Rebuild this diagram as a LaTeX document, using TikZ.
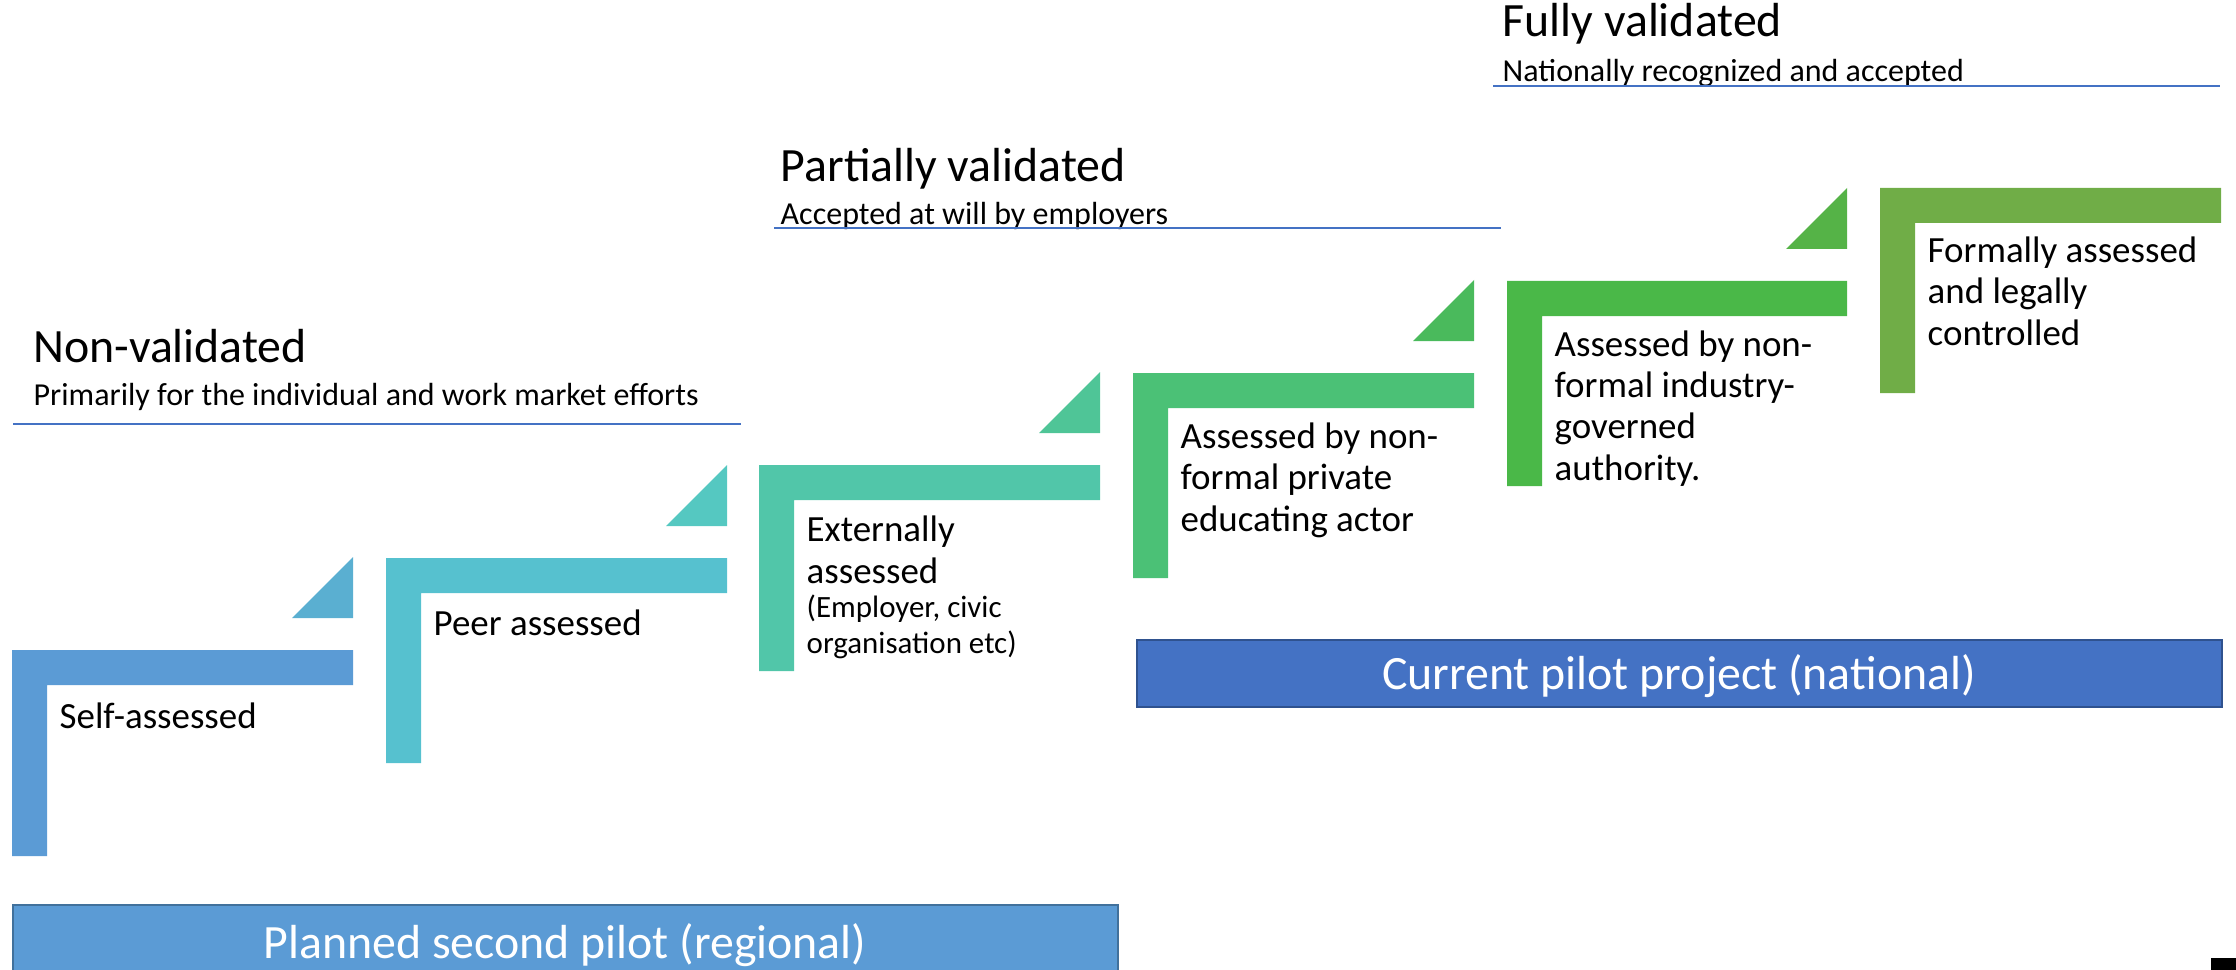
\documentclass[tikz,border=0pt]{standalone}
\usepackage{fontspec}
\setmainfont{Carlito}
\usetikzlibrary{positioning}

\definecolor{stepA}{HTML}{5B9BD5}
\definecolor{stepB}{HTML}{56C1CF}
\definecolor{stepC}{HTML}{51C6A9}
\definecolor{stepD}{HTML}{4BC176}
\definecolor{stepE}{HTML}{4AB848}
\definecolor{stepF}{HTML}{70AD47}
\definecolor{triA}{HTML}{5AAFD1}
\definecolor{triB}{HTML}{55C8C1}
\definecolor{triC}{HTML}{4FC597}
\definecolor{triD}{HTML}{4ABA5C}
\definecolor{triE}{HTML}{55B347}
\definecolor{rule}{HTML}{4472C4}
\definecolor{pilotA}{HTML}{5B9BD5}
\definecolor{pilotAedge}{HTML}{41719C}
\definecolor{pilotB}{HTML}{4472C4}
\definecolor{pilotBedge}{HTML}{2F528F}

\tikzset{
  steptext/.style={anchor=base west,align=left,inner sep=0pt,
    font=\fontsize{10.5}{11.7}\selectfont},
  smalltext/.style={anchor=base west,align=left,inner sep=0pt,
    font=\fontsize{8.8}{10}\selectfont},
  headtext/.style={anchor=base west,inner sep=0pt,
    font=\fontsize{13.6}{15}\selectfont},
  subtext/.style={anchor=base west,inner sep=0pt,
    font=\fontsize{9.1}{10}\selectfont},
  headrule/.style={draw=rule,line width=0.6pt},
  pilottext/.style={anchor=base,inner sep=0pt,text=white,
    font=\fontsize{13.6}{15}\selectfont}
}

\begin{document}
\begin{tikzpicture}[x=0.01cm,y=-0.01cm]
    \useasboundingbox (0,0) rectangle (2236,970);
    % steps
    \fill[stepA] (12,650) -- (353,650) -- (353,685) -- (47,685) -- (47,856) -- (12,856) -- cycle;
    \fill[stepB] (386,558) -- (727,558) -- (727,593) -- (421,593) -- (421,763) -- (386,763) -- cycle;
    \fill[stepC] (759,465) -- (1100,465) -- (1100,500) -- (794,500) -- (794,671) -- (759,671) -- cycle;
    \fill[stepD] (1133,373) -- (1474,373) -- (1474,408) -- (1168,408) -- (1168,578) -- (1133,578) -- cycle;
    \fill[stepE] (1507,281) -- (1847,281) -- (1847,316) -- (1542,316) -- (1542,486) -- (1507,486) -- cycle;
    \fill[stepF] (1880,188) -- (2221,188) -- (2221,223) -- (1915,223) -- (1915,393) -- (1880,393) -- cycle;
    % little triangles
    \fill[triA] (292,618) -- (353,618) -- (353,557) -- cycle;
    \fill[triB] (666,526) -- (727,526) -- (727,465) -- cycle;
    \fill[triC] (1039,433) -- (1100,433) -- (1100,372) -- cycle;
    \fill[triD] (1413,341) -- (1474,341) -- (1474,280) -- cycle;
    \fill[triE] (1786,249) -- (1847,249) -- (1847,188) -- cycle;
    % step labels (base = last line)
    \node[steptext] (self) at (59,728) {Self-assessed};
    \node[steptext] (peer) at (433,635) {Peer assessed};
    \node[steptext] (extern) at (806,583) {Externally\\assessed};
    \node[smalltext] (extsub) at (806,653) {(Employer, civic\\organisation etc)};
    \node[steptext] (private) at (1180,531) {Assessed by non-\\formal private\\educating actor};
    \node[steptext] (industry) at (1554,480) {Assessed by non-\\formal industry-\\governed\\authority.};
    \node[steptext] (formal) at (1927,345) {Formally assessed\\and legally\\controlled};
    % headings
    \node[headtext] (nonval) at (33,363) {Non-validated};
    \node[subtext] (nonsub) at (33,406) {Primarily for the individual and work market efforts};
    \draw[headrule] (13,424) -- (741,424);
    \node[headtext] (partval) at (780,182) {Partially validated};
    \node[subtext] (partsub) at (780,225) {Accepted at will by employers};
    \draw[headrule] (774,228) -- (1501,228);
    \node[headtext] (fullval) at (1502,37) {Fully validated};
    \node[subtext] (fullsub) at (1502,82) {Nationally recognized and accepted};
    \draw[headrule] (1493,86) -- (2220,86);
    % pilot boxes
    \filldraw[fill=pilotB,draw=pilotBedge,line width=0.8pt] (1137,640) rectangle (2222,707);
    \node[pilottext] (current) at (1679,689) {Current pilot project (national)};
    \filldraw[fill=pilotA,draw=pilotAedge,line width=0.8pt] (13,905) rectangle (1118,990);
    \node[pilottext] (planned) at (565,958) {Planned second pilot (regional)};
    \fill[black] (2211,958) rectangle (2236,970);
\end{tikzpicture}
\end{document}
